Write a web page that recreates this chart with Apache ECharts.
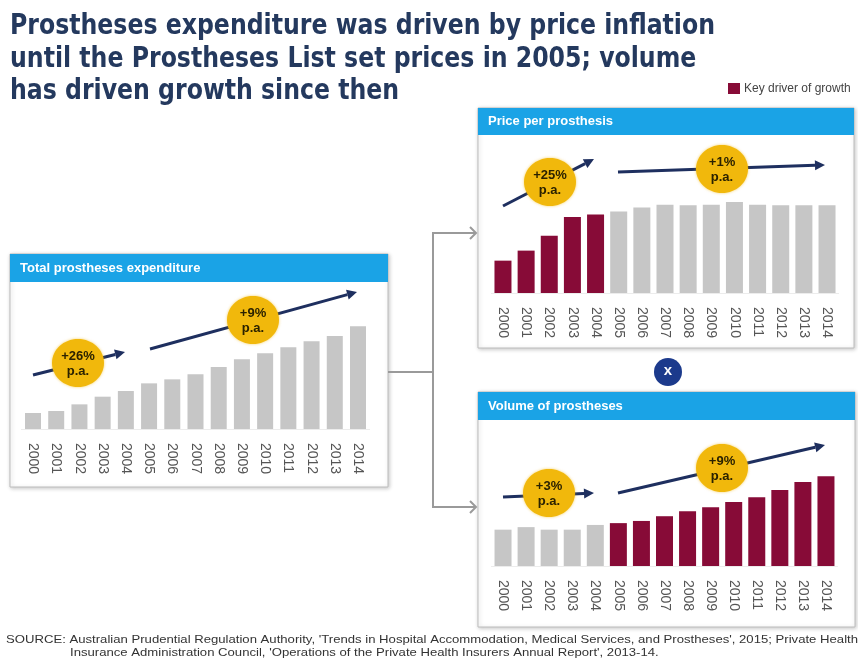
<!DOCTYPE html>
<html>
<head>
<meta charset="utf-8">
<script src="https://cdn.jsdelivr.net/npm/echarts@6/dist/echarts.min.js"></script>
<style>
html,body{margin:0;padding:0;background:#fff;}
#chart{width:858px;height:664px;}
</style>
</head>
<body>
<div id="chart"></div>
<script>
// ---------------- data ----------------
const years = ['2000','2001','2002','2003','2004','2005','2006','2007','2008','2009','2010','2011','2012','2013','2014'];
// Total prostheses expenditure ($m)
const totalExpenditure = [300, 337, 462, 606, 712, 856, 931, 1025, 1162, 1306, 1419, 1531, 1644, 1744, 1925];
// Price per prosthesis (index, 2000 = 100)
const pricePerProsthesis = [100, 131, 177, 235, 243, 252, 264, 273, 271, 273, 281, 273, 271, 271, 271];
// Volume of prostheses (index, 2000 = 100)
const volumeOfProstheses = [100, 107, 100, 100, 113, 118, 124, 137, 151, 162, 176, 189, 209, 231, 247];
// Key driver of growth flags
const totalKeyDriver  = [0,0,0,0,0,0,0,0,0,0,0,0,0,0,0];
const priceKeyDriver  = [1,1,1,1,1,0,0,0,0,0,0,0,0,0,0];
const volumeKeyDriver = [0,0,0,0,0,1,1,1,1,1,1,1,1,1,1];
// Growth annotations
const totalGrowth  = ['+26%', '+9%'];
const priceGrowth  = ['+25%', '+1%'];
const volumeGrowth = ['+3%', '+9%'];
const panelTitles = ['Total prostheses expenditure', 'Price per prosthesis', 'Volume of prostheses'];
const titleLines = [
  'Prostheses expenditure was driven by price inflation',
  'until the Prostheses List set prices in 2005; volume',
  'has driven growth since then'
];
const legendText = 'Key driver of growth';
const sourceLines = [
  "SOURCE: Australian Prudential Regulation Authority, 'Trends in Hospital Accommodation, Medical Services, and Prostheses', 2015; Private Health",
  "Insurance Administration Council, 'Operations of the Private Health Insurers Annual Report', 2013-14."
];

// ---------------- styles ----------------
const GRAY = '#C6C6C6';
const MAROON = '#870B37';
const BLUE = '#1AA3E6';
const NAVY = '#1E2F5F';
const YELLOW = '#F1B80C';
const TITLE = '#24395E';

const mctx = document.createElement('canvas').getContext('2d');
function measure(text, font){ mctx.font = font; return mctx.measureText(text).width; }

const titleFont = 'bold 28px "DejaVu Sans"';
const titleScale = 705 / measure(titleLines[0], titleFont);
const srcFont = '10.5px "Liberation Sans"';
const srcScale = 852 / measure(sourceLines[0], srcFont);

const chart = echarts.init(document.getElementById('chart'), null, {renderer:'canvas'});

function colored(values, flags){
  return values.map((v,i)=>({value:v, itemStyle:{color: flags[i] ? MAROON : GRAY}}));
}

const axisLabel = {rotate:-90, fontSize:14, margin:14, color:'#555', fontFamily:'"Liberation Sans", Arial, sans-serif'};
function xAx(gi){
  return {type:'category', gridIndex:gi, data:years, axisTick:{show:false},
    axisLine:{show:true, lineStyle:{color:'#ececec', width:1}}, axisLabel:axisLabel};
}

const graphics = [];
// title
titleLines.forEach((t,i)=>{
  graphics.push({type:'text', x:10, y:27 + i*32.5, scaleX:titleScale, z:10,
    style:{text:t, font:titleFont, fill:TITLE, textVerticalAlign:'middle', textAlign:'left'}});
});
// legend
graphics.push({type:'rect', shape:{x:728, y:83, width:12, height:11}, style:{fill:MAROON}, z:10});
graphics.push({type:'text', x:744, y:89, z:10, style:{text:legendText, font:'12px "Liberation Sans"', fill:'#444', textVerticalAlign:'middle'}});

// panels
const panels = [
  {x:10, y:254, w:378, h:233, hh:28},
  {x:478, y:108, w:376, h:240, hh:27},
  {x:478, y:392, w:377, h:235, hh:28}
];
panels.forEach((p,i)=>{
  graphics.push({type:'rect', z:0, shape:{x:p.x, y:p.y, width:p.w, height:p.h},
    style:{fill:'#fff', stroke:'#bdbdbd', lineWidth:1, shadowBlur:4, shadowColor:'rgba(0,0,0,0.22)', shadowOffsetX:1, shadowOffsetY:1}});
  graphics.push({type:'rect', z:1, shape:{x:p.x, y:p.y, width:p.w, height:p.hh}, style:{fill:BLUE}});
  graphics.push({type:'text', z:2, x:p.x+10, y:p.y+p.hh/2, style:{text:panelTitles[i], font:'bold 13px "Liberation Sans"', fill:'#fff', textVerticalAlign:'middle'}});
});

// connector
const CG = '#9a9a9a';
graphics.push({type:'polyline', z:1, shape:{points:[[388,372],[433,372]]}, style:{stroke:CG, lineWidth:2, fill:null}});
graphics.push({type:'polyline', z:1, shape:{points:[[476,233],[433,233],[433,507],[476,507]]}, style:{stroke:CG, lineWidth:2, fill:null}});
graphics.push({type:'polyline', z:1, shape:{points:[[470,227],[476,233],[470,239]]}, style:{stroke:CG, lineWidth:2, fill:null}});
graphics.push({type:'polyline', z:1, shape:{points:[[470,501],[476,507],[470,513]]}, style:{stroke:CG, lineWidth:2, fill:null}});

// multiply circle
graphics.push({type:'circle', z:5, shape:{cx:668, cy:372, r:14}, style:{fill:'#1C3A8C'}});
graphics.push({type:'text', z:6, x:668, y:371, style:{text:'x', font:'bold 15px "Liberation Sans"', fill:'#fff', textAlign:'center', textVerticalAlign:'middle'}});

// arrows + growth bubbles
function arrow(x1,y1,x2,y2){
  const a = Math.atan2(y2-y1, x2-x1), L = 10, W = 5;
  const bx = x2 - L*Math.cos(a), by = y2 - L*Math.sin(a);
  graphics.push({type:'line', z:20, shape:{x1:x1,y1:y1,x2:bx,y2:by}, style:{stroke:NAVY, lineWidth:3}});
  graphics.push({type:'polygon', z:20, shape:{points:[[x2,y2],[bx - W*Math.sin(a), by + W*Math.cos(a)],[bx + W*Math.sin(a), by - W*Math.cos(a)]]}, style:{fill:NAVY}});
}
function bubble(cx,cy,label){
  graphics.push({type:'ellipse', z:25, shape:{cx:cx, cy:cy, rx:26, ry:24}, style:{fill:YELLOW, shadowBlur:3, shadowColor:'rgba(240,180,0,0.6)'}});
  graphics.push({type:'text', z:26, x:cx, y:cy-7, style:{text:label, font:'bold 13px "Liberation Sans"', fill:'#2b2200', textAlign:'center', textVerticalAlign:'middle'}});
  graphics.push({type:'text', z:26, x:cx, y:cy+8, style:{text:'p.a.', font:'bold 13px "Liberation Sans"', fill:'#2b2200', textAlign:'center', textVerticalAlign:'middle'}});
}
arrow(33,375,125,352); bubble(78,363,totalGrowth[0]);
arrow(150,349,357,292); bubble(253,320,totalGrowth[1]);
arrow(503,206,594,159); bubble(550,182,priceGrowth[0]);
arrow(618,172,825,165); bubble(722,169,priceGrowth[1]);
arrow(503,497,594,493); bubble(549,493,volumeGrowth[0]);
arrow(618,493,825,445); bubble(722,468,volumeGrowth[1]);

// source
graphics.push({type:'text', z:10, x:6, y:640, scaleX:srcScale, style:{text:sourceLines[0], font:srcFont, fill:'#333', textVerticalAlign:'middle'}});
graphics.push({type:'text', z:10, x:70, y:653, scaleX:srcScale, style:{text:sourceLines[1], font:srcFont, fill:'#333', textVerticalAlign:'middle'}});

const option = {
  animation:false,
  backgroundColor:'#fff',
  grid:[
    {left:21.4, width:348.2, top:301, height:128},
    {left:491.4, width:347.2, top:183, height:110},
    {left:491.5, width:346, top:457, height:109}
  ],
  xAxis:[xAx(0), xAx(1), xAx(2)],
  yAxis:[
    {type:'value', gridIndex:0, min:0, max:2400, show:false},
    {type:'value', gridIndex:1, min:0, max:340, show:false},
    {type:'value', gridIndex:2, min:0, max:300, show:false}
  ],
  series:[
    {type:'bar', xAxisIndex:0, yAxisIndex:0, barWidth:16, z:5, data:colored(totalExpenditure, totalKeyDriver)},
    {type:'bar', xAxisIndex:1, yAxisIndex:1, barWidth:17, z:5, data:colored(pricePerProsthesis, priceKeyDriver)},
    {type:'bar', xAxisIndex:2, yAxisIndex:2, barWidth:17, z:5, data:colored(volumeOfProstheses, volumeKeyDriver)}
  ],
  graphic:{elements:graphics}
};
chart.setOption(option);
</script>
</body>
</html>
